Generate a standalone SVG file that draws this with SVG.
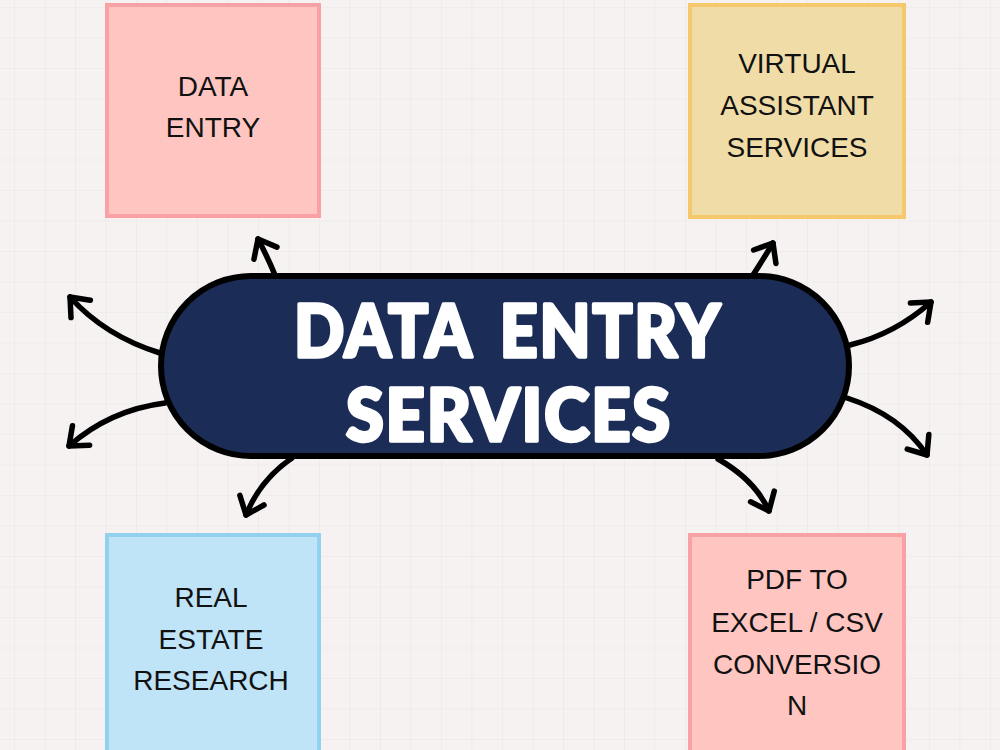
<svg xmlns="http://www.w3.org/2000/svg" width="1000" height="750" viewBox="0 0 1000 750">
  <defs>
    <pattern id="grid" x="14" y="7" width="30.5" height="30.5" patternUnits="userSpaceOnUse">
      <path d="M0 0 H30.5 M0 0 V30.5" fill="none" stroke="#ECE6E6" stroke-width="1.2"/>
    </pattern>
    <marker id="chev" markerUnits="userSpaceOnUse" viewBox="-24 -20 30 40" markerWidth="30" markerHeight="40" refX="0" refY="0" orient="auto">
      <path d="M-16,-13 L0,0 L-16,13" fill="none" stroke="#000" stroke-width="5.5" stroke-linecap="round" stroke-linejoin="round"/>
    </marker>
  </defs>
  <style>
    .card { stroke-width: 4; }
    .pink { fill: #FFC6C1; stroke: #F8A2A5; }
    .sand { fill: #F0DCA7; stroke: #F4C86B; }
    .sky  { fill: #BFE3F7; stroke: #93D1EE; }
    .label { font-family: "Liberation Sans", Arial, sans-serif; font-size: 28px; fill: #111; text-anchor: middle; }
    .title { font-family: "Lato", "Liberation Sans", sans-serif; font-weight: 900; font-size: 72px; letter-spacing: 2px; word-spacing: 12px; fill: #fff; stroke: #fff; stroke-width: 3.5; stroke-linejoin: round; text-anchor: middle; }
    .link { fill: none; stroke: #000; stroke-width: 5.5; stroke-linecap: round; marker-end: url(#chev); }
  </style>

  <!-- paper background with grid -->
  <rect width="1000" height="750" fill="#F6F2F2"/>
  <rect width="1000" height="750" fill="url(#grid)"/>

  <g id="node-data-entry">
    <rect class="card pink" x="107" y="5" width="212" height="211"/>
    <text class="label" x="213" y="96">DATA</text>
    <text class="label" x="213" y="137">ENTRY</text>
  </g>

  <g id="node-virtual-assistant">
    <rect class="card sand" x="690" y="5" width="214" height="212"/>
    <text class="label" x="797" y="73">VIRTUAL</text>
    <text class="label" x="797" y="115">ASSISTANT</text>
    <text class="label" x="797" y="157">SERVICES</text>
  </g>

  <g id="node-real-estate">
    <rect class="card sky" x="107" y="535" width="212" height="220"/>
    <text class="label" x="211" y="607">REAL</text>
    <text class="label" x="211" y="649">ESTATE</text>
    <text class="label" x="211" y="690">RESEARCH</text>
  </g>

  <g id="node-pdf-conversion">
    <rect class="card pink" x="690" y="535" width="214" height="220"/>
    <text class="label" x="797" y="589">PDF TO</text>
    <text class="label" x="797" y="632">EXCEL / CSV</text>
    <text class="label" x="797" y="674">CONVERSIO</text>
    <text class="label" x="797" y="715">N</text>
  </g>

  <g id="connectors">
    <path class="link" d="M275,275 Q268,258 258,239"/>
    <path class="link" d="M160,353 Q105,336 70,297"/>
    <path class="link" d="M165,403 Q110,410 69,446"/>
    <path class="link" d="M292,458 Q260,480 246,515"/>
    <path class="link" d="M753,275 Q764,258 773,243"/>
    <path class="link" d="M850,345 Q895,334 931,302"/>
    <path class="link" d="M847,398 Q900,415 927,455"/>
    <path class="link" d="M718,459 Q755,480 769,511"/>
  </g>

  <g id="node-hub">
    <rect x="161" y="276" width="688" height="180" rx="90" ry="90" fill="#1B2C56" stroke="#000" stroke-width="6"/>
    <text class="title" x="508" y="357" textLength="428" lengthAdjust="spacingAndGlyphs">DATA ENTRY</text>
    <text class="title" x="509" y="441" textLength="326" lengthAdjust="spacingAndGlyphs">SERVICES</text>
  </g>
</svg>
